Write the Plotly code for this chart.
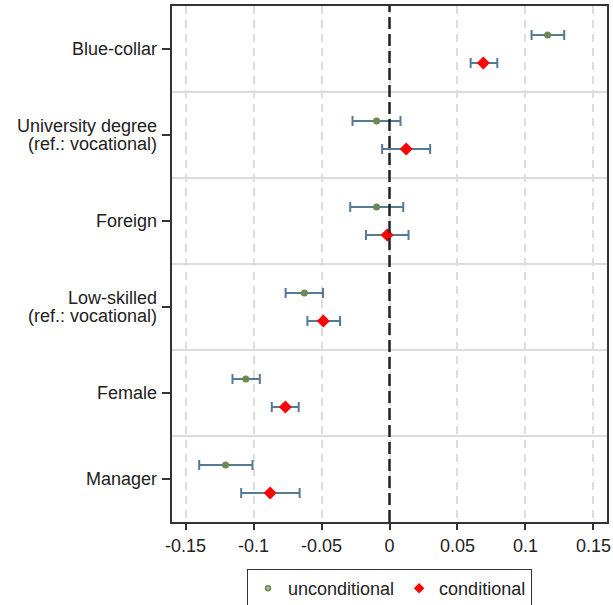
import plotly.graph_objects as go

categories = ["Blue-collar", "University degree|(ref.: vocational)", "Foreign",
              "Low-skilled|(ref.: vocational)", "Female", "Manager"]
uncond_est = [0.1163, -0.0095, -0.0095, -0.0626, -0.1057, -0.1206]
uncond_lo = [0.1045, -0.0272, -0.0289, -0.0764, -0.1155, -0.1400]
uncond_hi = [0.1285, 0.0081, 0.0101, -0.0489, -0.0954, -0.1008]
cond_est = [0.0690, 0.0123, -0.0017, -0.0487, -0.0766, -0.0878]
cond_lo = [0.0597, -0.0054, -0.0173, -0.0604, -0.0866, -0.1091]
cond_hi = [0.0793, 0.0299, 0.0140, -0.0364, -0.0668, -0.0661]
x_ticks = [-0.15, -0.1, -0.05, 0, 0.05, 0.1, 0.15]
x_tick_labels = ["-0.15", "-0.1", "-0.05", "0", "0.05", "0.1", "0.15"]

n = len(categories)
ypos = [n - 1 - i for i in range(n)]
off = 0.163
err_color = "#557a96"
FONT = "Liberation Sans, Arial, sans-serif"
FS = 18

fig = go.Figure()
fig.add_trace(go.Scatter(
    x=uncond_est, y=[y + off for y in ypos], mode="markers", name="unconditional",
    showlegend=False,
    marker=dict(symbol="circle", size=7, color="#6a8a4e", line=dict(width=0)),
    error_x=dict(type="data", symmetric=False,
                 array=[h - e for h, e in zip(uncond_hi, uncond_est)],
                 arrayminus=[e - l for e, l in zip(uncond_est, uncond_lo)],
                 color=err_color, thickness=2, width=5),
))
fig.add_trace(go.Scatter(
    x=cond_est, y=[y - off for y in ypos], mode="markers", name="conditional",
    showlegend=False,
    marker=dict(symbol="diamond", size=10, color="#ff0000", line=dict(width=0)),
    error_x=dict(type="data", symmetric=False,
                 array=[h - e for h, e in zip(cond_hi, cond_est)],
                 arrayminus=[e - l for e, l in zip(cond_est, cond_lo)],
                 color=err_color, thickness=2, width=5),
))
# legend entries (small symbols as in the reference)
fig.add_trace(go.Scatter(x=[None], y=[None], mode="markers", name="unconditional",
                         marker=dict(symbol="circle", size=5, color="#a9bb94",
                                     line=dict(width=1.5, color="#6a8a4e"))))
fig.add_trace(go.Scatter(x=[None], y=[None], mode="markers", name="conditional",
                         marker=dict(symbol="diamond", size=8, color="#ff0000",
                                     line=dict(width=0))))

shapes = []
for k in range(n - 1):
    shapes.append(dict(type="line", xref="paper", yref="y", x0=0, x1=1, y0=k + 0.5, y1=k + 0.5,
                       line=dict(color="#dcdcdc", width=2), layer="below"))
shapes.append(dict(type="line", xref="x", yref="paper", x0=0, x1=0, y0=0, y1=1,
                   line=dict(color="#222222", width=2.5, dash="12px,5px")))

# category labels as annotations (tight line spacing)
annotations = []
for cat, y in zip(categories, ypos):
    lines = cat.split("|")
    m = len(lines)
    for j, line in enumerate(lines):
        shift = (j - (m - 1) / 2) * -18.5
        annotations.append(dict(text=line, xref="paper", yref="y", x=0, y=y,
                                xanchor="right", yanchor="middle", xshift=-13,
                                yshift=shift, showarrow=False,
                                font=dict(family=FONT, size=FS, color="#222222")))

fig.update_layout(
    width=613, height=605,
    margin=dict(l=172, r=6, t=6, b=83),
    paper_bgcolor="white", plot_bgcolor="white",
    font=dict(family=FONT, size=FS, color="#222222"),
    shapes=shapes,
    annotations=annotations,
    showlegend=True,
    legend=dict(orientation="h", x=0.5, xanchor="center", xref="paper",
                y=(605 - 569) / 605, yanchor="top", yref="container",
                bordercolor="#333333", borderwidth=1, font=dict(size=FS),
                itemwidth=30),
    xaxis=dict(range=[-0.16, 0.16], tickvals=x_ticks, ticktext=x_tick_labels,
               showgrid=True, gridcolor="#dddddd", griddash="8px,6px", gridwidth=1.5,
               zeroline=False, showline=True, linecolor="#333333", linewidth=2,
               mirror=True, ticks="outside", ticklen=6, tickcolor="#333333", tickwidth=1.5,
               automargin=False),
    yaxis=dict(range=[-0.5, n - 0.5], tickvals=ypos, ticktext=["" for _ in categories],
               showgrid=False, zeroline=False, showline=True, linecolor="#333333",
               linewidth=2, mirror=True, ticks="outside", ticklen=8,
               tickcolor="#333333", tickwidth=1.5, automargin=False),
)

fig.write_html("out.html", config={"displayModeBar": False},
               post_script="document.body.style.margin='0';")
